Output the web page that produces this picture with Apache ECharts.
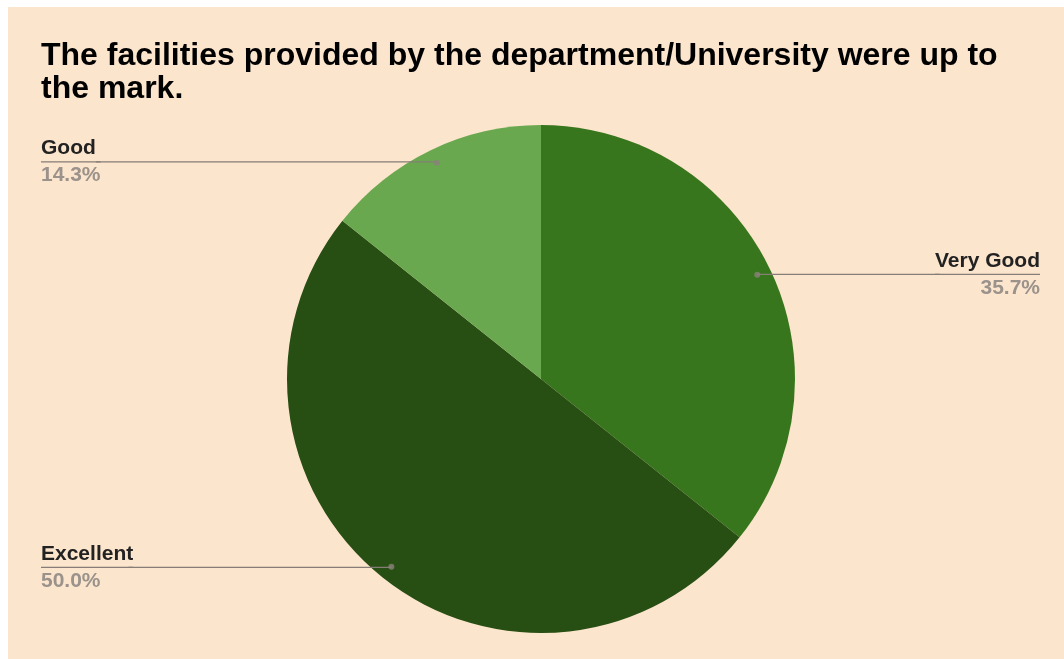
<!DOCTYPE html>
<html><head><meta charset="utf-8">
<script src="https://cdn.jsdelivr.net/npm/echarts@6.0.0/dist/echarts.min.js"></script>
<style>
html,body{margin:0;padding:0;background:#fff;width:1064px;height:659px;overflow:hidden}
#bg{position:absolute;left:8px;top:7px;width:1056px;height:652px;background:#fce5cd}
#chart{position:absolute;left:17px;top:0;width:1047px;height:659px}
</style></head>
<body><div id="bg"></div><div id="chart"></div>
<script>
const categories = ['Very Good', 'Excellent', 'Good'];
const values = [5, 7, 2];
const colors = ['#38761d', '#274e13', '#6aa84f'];
const titleText = 'The facilities provided by the department/University were up to\nthe mark.';

const total = values.reduce((a, b) => a + b, 0);
const pieData = categories.map((c, i) => ({ name: c, value: values[i], itemStyle: { color: colors[i] } }));
const labelData = categories.map((c, i) => ({ name: c, value: values[i] }));
let acc = 0;
const dotData = values.map(v => { const mid = acc + v / 2; acc += v; return [240, mid]; });

const FONT = 'Liberation Sans, Arial, sans-serif';
const chart = echarts.init(document.getElementById('chart'));
chart.setOption({
  animation: false,
  backgroundColor: 'transparent',
  title: {
    text: titleText, left: 24, top: 40, padding: 0,
    textStyle: { fontFamily: FONT, fontSize: 32, fontWeight: 'bold', color: '#000', lineHeight: 33 }
  },
  polar: { center: [524, 379], radius: 254 },
  angleAxis: { type: 'value', min: 0, max: total, startAngle: 90, clockwise: true, show: false },
  radiusAxis: { type: 'value', min: 0, max: 254, show: false },
  series: [
    {
      type: 'pie', center: [524, 379], radius: 254, startAngle: 90, clockwise: true,
      data: pieData, label: { show: false }, labelLine: { show: false }, silent: true, z: 1
    },
    {
      type: 'pie', center: [524, 379], radius: 240, startAngle: 90, clockwise: true, silent: true, z: 2,
      itemStyle: { color: 'transparent' },
      data: labelData,
      avoidLabelOverlap: true,
      label: {
        show: true, position: 'outside', alignTo: 'edge', edgeDistance: 24, distanceToLabelLine: -6,
        fontFamily: FONT,
        formatter: p => '{name|' + p.name + '}\n{hr|}\n{pct|' + p.percent.toFixed(1) + '%}',
        rich: {
          name: { fontSize: 21, fontWeight: 'bold', color: '#222', lineHeight: 27, fontFamily: FONT },
          hr: { width: '100%', height: 0, lineHeight: 0, borderWidth: 1.3, borderColor: '#857d76' },
          pct: { fontSize: 21, fontWeight: 'bold', color: '#9a928b', lineHeight: 27, fontFamily: FONT }
        }
      },
      labelLine: { show: true, showAbove: true, length: 1, length2: 10, minTurnAngle: 0, maxSurfaceAngle: 180, lineStyle: { color: '#857d76', width: 1.3 } }
    },
    {
      type: 'scatter', coordinateSystem: 'polar', data: dotData, symbol: 'circle', symbolSize: 6,
      itemStyle: { color: '#8a827b' }, silent: true, z: 5
    }
  ]
});
</script>
</body></html>
